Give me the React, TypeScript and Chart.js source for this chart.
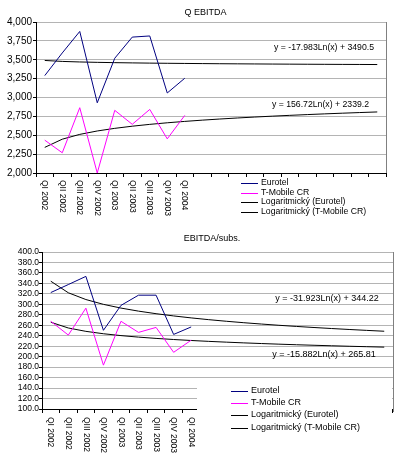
import React, { useEffect, useRef } from "react";
import { Chart, registerables } from "chart.js";

Chart.register(...registerables);

const FONT = "'Liberation Sans', Arial, sans-serif";

// ---------- DATA ----------
const quarterLabels = [
  "QI 2002", "QII 2002", "QIII 2002", "QIV 2002", "QI 2003",
  "QII 2003", "QIII 2003", "QIV 2003", "QI 2004",
  "", "", "", "", "", "", "", "", "", "", "",
];

const seriesNames = ["Eurotel", "T-Mobile CR", "Logaritmický (Eurotel)", "Logaritmický (T-Mobile CR)"];

// Q EBITDA
const ebitdaEurotel = [3290, 3590, 3875, 2930, 3520, 3800, 3815, 3060, 3255];
const ebitdaTMobile = [2435, 2268, 2865, 2000, 2830, 2645, 2842, 2452, 2763];
const ebitdaTrendEurotel = [
  3490.5, 3478.0, 3470.7, 3465.6, 3461.6, 3458.3, 3455.5, 3453.1, 3451.0, 3449.1,
  3447.4, 3445.8, 3444.4, 3443.0, 3441.8, 3440.6, 3439.5, 3438.5, 3437.6, 3436.6,
];
const ebitdaTrendTMobile = [
  2339.2, 2447.8, 2511.4, 2556.5, 2591.4, 2620.0, 2644.2, 2665.1, 2683.5, 2700.1,
  2715.0, 2728.6, 2741.2, 2752.8, 2763.6, 2773.7, 2783.2, 2792.2, 2800.7, 2808.7,
];
const ebitdaEquations = ["y = -17.983Ln(x) + 3490.5", "y = 156.72Ln(x) + 2339.2"];
const ebitdaAxis = { min: 2000, max: 4000, step: 250 };

// EBITDA/subs.
const subsEurotel = [322.5, 337.8, 353.4, 250.4, 298.0, 317.5, 317.5, 242.5, 256.8];
const subsTMobile = [267.6, 241.3, 292.7, 183.8, 267.6, 246.4, 255.9, 208.3, 231.5];
const subsTrendEurotel = [
  344.22, 322.09, 309.15, 299.96, 292.84, 287.02, 282.10, 277.84, 274.08, 270.71,
  267.67, 264.89, 262.34, 259.97, 257.77, 255.71, 253.77, 251.95, 250.23, 248.59,
];
const subsTrendTMobile = [
  265.81, 254.80, 248.36, 243.79, 240.25, 237.35, 234.91, 232.78, 230.91, 229.24,
  227.73, 226.34, 225.07, 223.90, 222.80, 221.78, 220.81, 219.90, 219.05, 218.23,
];
const subsEquations = ["y = -31.923Ln(x) + 344.22", "y = -15.882Ln(x) + 265.81"];
const subsAxis = { min: 100, max: 400, step: 20 };

// ---------- PANEL ----------
type PanelProps = {
  title: string;
  top: number;
  values: number[][];
  equations: string[];
  axis: { min: number; max: number; step: number };
  fmt: (v: number) => string;
  geo: any;
};

function Panel({ title, top, values, equations, axis, fmt, geo }: PanelProps) {
  const ref = useRef<HTMLCanvasElement | null>(null);
  useEffect(() => {
    if (!ref.current) return;
    const colors = ["#000080", "#ff00ff", "#000000", "#000000"];
    const widths = [1, 1, 1, 1];
    const decor = {
      id: "decor",
      afterDraw(chart: any) {
        const { ctx, chartArea } = chart;
        const xs = chart.scales.x;
        ctx.save();
        // right plot border
        ctx.strokeStyle = "#808080";
        ctx.lineWidth = 1;
        const rx = Math.round(chartArea.right) + 0.5;
        ctx.beginPath();
        ctx.moveTo(rx, chartArea.top);
        ctx.lineTo(rx, chartArea.bottom + geo.borderExtra);
        ctx.stroke();
        ctx.fillStyle = "#000";
        // title
        ctx.font = `${geo.titleSize}px ${FONT}`;
        ctx.textAlign = "center";
        ctx.textBaseline = "middle";
        ctx.fillText(title, geo.titleX, geo.titleY);
        // x labels rotated (top-to-bottom)
        ctx.font = `${geo.xSize}px ${FONT}`;
        quarterLabels.forEach((lab, i) => {
          if (!lab) return;
          const x = xs.getPixelForValue(i);
          ctx.save();
          ctx.translate(x, geo.xLabelY);
          ctx.rotate(Math.PI / 2);
          ctx.textAlign = "left";
          ctx.textBaseline = "middle";
          ctx.fillText(lab, 0, 0);
          ctx.restore();
        });
        // equations
        ctx.font = `${geo.eqSize}px ${FONT}`;
        ctx.textAlign = "center";
        ctx.textBaseline = "middle";
        equations.forEach((eq, i) => {
          ctx.fillText(eq, geo.eqPos[i][0], geo.eqPos[i][1]);
        });
        // legend box
        if (geo.legBox) {
          ctx.fillStyle = "#fff";
          ctx.fillRect(geo.legBox[0], geo.legBox[1], geo.legBox[2], geo.legBox[3]);
          ctx.fillStyle = "#000";
        }
        // legend
        ctx.font = `${geo.legSize}px ${FONT}`;
        ctx.textAlign = "left";
        seriesNames.forEach((n, i) => {
          const y = geo.legY[i];
          ctx.strokeStyle = colors[i];
          ctx.lineWidth = 1;
          ctx.beginPath();
          ctx.moveTo(geo.legX0, Math.round(y) + 0.5);
          ctx.lineTo(geo.legX1, Math.round(y) + 0.5);
          ctx.stroke();
          ctx.fillText(n, geo.legTextX, y);
        });
        ctx.restore();
      },
    };
    const chart = new Chart(ref.current, {
      type: "line",
      data: {
        labels: quarterLabels,
        datasets: seriesNames.map((n, i) => ({
          label: n,
          data: values[i],
          borderColor: colors[i],
          backgroundColor: colors[i],
          borderWidth: widths[i],
          pointRadius: 0,
          tension: 0,
          fill: false,
        })),
      },
      options: {
        responsive: false,
        animation: false,
        layout: { padding: { left: 0, right: geo.padRight, top: geo.padTop, bottom: 0 } },
        plugins: { legend: { display: false }, tooltip: { enabled: false }, title: { display: false } },
        scales: {
          x: {
            type: "category",
            offset: true,
            grid: { offset: true, drawOnChartArea: false, drawTicks: true, tickLength: 4, color: "#000" },
            border: { color: "#000", width: 1 },
            ticks: { display: false },
            afterFit: (s: any) => { s.height = geo.xHeight; },
          },
          y: {
            min: axis.min,
            max: axis.max,
            grid: {
              color: (c: any) => (c.tick && c.tick.value === axis.min ? "rgba(0,0,0,0)" : "#b4b4b4"),
              tickColor: "#000",
              drawTicks: true,
              tickLength: 3,
            },
            border: { color: "#000", width: 1 },
            ticks: {
              stepSize: axis.step,
              autoSkip: false,
              padding: geo.yPad,
              color: "#000",
              font: { family: FONT, size: geo.ySize, lineHeight: 1 },
              callback: (v: any) => fmt(Number(v)),
            },
            afterFit: (s: any) => { s.width = geo.yWidth; },
          },
        },
      },
      plugins: [decor],
    } as any);
    return () => chart.destroy();
  }, []);
  return (
    <canvas
      ref={ref}
      width={397}
      height={230}
      style={{ position: "absolute", left: 0, top, width: 397, height: 230 }}
    />
  );
}

export default function App() {
  const fmtThousands = (v: number) => v.toLocaleString("en-US");
  const fmtOne = (v: number) => v.toFixed(1);
  return (
    <div style={{ position: "absolute", left: 0, top: 0, width: 397, height: 460, background: "#fff" }}>
      <Panel
        title="Q EBITDA"
        top={0}
        values={[ebitdaEurotel, ebitdaTMobile, ebitdaTrendEurotel, ebitdaTrendTMobile]}
        equations={ebitdaEquations}
        axis={ebitdaAxis}
        fmt={fmtThousands}
        geo={{
          padRight: 11, padTop: 22, xHeight: 57, yWidth: 36, yPad: 1, ySize: 10,
          titleSize: 9, titleX: 205.5, titleY: 13,
          xSize: 8.5, xLabelY: 180,
          eqSize: 8.7, eqPos: [[324, 48], [320.5, 105]],
          legSize: 8.7, legX0: 241, legX1: 258, legTextX: 261, legY: [183, 192.5, 202, 212],
          borderExtra: 0, legBox: null,
        }}
      />
      <Panel
        title="EBITDA/subs."
        top={230}
        values={[subsEurotel, subsTMobile, subsTrendEurotel, subsTrendTMobile]}
        equations={subsEquations}
        axis={subsAxis}
        fmt={fmtOne}
        geo={{
          padRight: 4, padTop: 22, xHeight: 51, yWidth: 42, yPad: 0, ySize: 8.5,
          titleSize: 9, titleX: 212, titleY: 9,
          xSize: 8.5, xLabelY: 187,
          eqSize: 9, eqPos: [[327, 69], [324, 125]],
          legSize: 9, legX0: 231, legX1: 248, legTextX: 251, legY: [161, 173, 185, 197.5],
          borderExtra: 3, legBox: [197, 148, 195, 82],
        }}
      />
    </div>
  );
}
